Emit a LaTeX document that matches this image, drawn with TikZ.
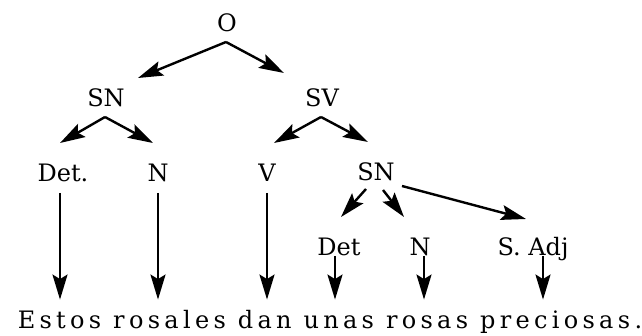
\documentclass[tikz,border=0pt]{standalone}
\usepackage{fontspec}
\setmainfont{DejaVu Serif}
\usetikzlibrary{positioning, arrows.meta}

\begin{document}
\begin{tikzpicture}[x=1pt, y=1pt, every node/.style={font=\fontsize{24}{28}\selectfont, inner sep=0pt}]
  % Styles
  \tikzset{
    cat/.style={anchor=base},
    flow/.style={-{Stealth[length=25pt, width=15pt, inset=4.5pt]}, line width=2.4pt, draw=black}
  }
  \useasboundingbox (0,0) rectangle (642,336);

  % Top levels
  \node[cat] (o) at (227,304) {O};
  \node[cat] (sn) at (106,229) {SN};
  \node[cat] (sv) at (322,229) {SV};

  % Third row
  \node[cat] (det) at (63,154) {Det.};
  \node[cat] (n) at (158,154) {N};
  \node[cat] (v) at (267,154) {V};
  \node[cat] (snb) at (376,155) {SN};

  % Fourth row
  \node[cat] (detb) at (339,80) {Det};
  \node[cat] (nb) at (420,80) {N};
  \node[cat] (sadj) at (533,80) {S. Adj};

  % Sentence
  \node[anchor=base] (sent) at (330,7) {\addfontfeature{LetterSpace=18}Estos rosales dan unas rosas preciosas.};

  % Branches from O, SN, SV
  \draw[flow] ([shift={(-1,-10)}]o.base) -- ([shift={(32,29)}]sn.base);
  \draw[flow] ([shift={(-1,-10)}]o.base) -- ([shift={(-38,34)}]sv.base);
  \draw[flow] ([shift={(-1,-10)}]sn.base) -- ([shift={(-3,39)}]det.base);
  \draw[flow] ([shift={(-1,-10)}]sn.base) -- ([shift={(-5,39)}]n.base);
  \draw[flow] ([shift={(-1,-10)}]sv.base) -- ([shift={(7,39)}]v.base);
  \draw[flow] ([shift={(-1,-10)}]sv.base) -- ([shift={(-8,39)}]snb.base);

  % Branches from the lower SN
  \draw[flow] ([shift={(-10,-8)}]snb.base) -- ([shift={(2,39)}]detb.base);
  \draw[flow] ([shift={(7,-9)}]snb.base) -- ([shift={(-16,39)}]nb.base);
  \draw[flow] ([shift={(26,-5)}]snb.base) -- ([shift={(-7,37)}]sadj.base);

  % Down to the words
  \draw[flow] ([shift={(-3,-11)}]det.base) -- ([shift={(-3,11)}]det.base |- sent.north);
  \draw[flow] ([yshift=-11pt]n.base) -- ([yshift=11pt]n.base |- sent.north);
  \draw[flow] ([yshift=-11pt]v.base) -- ([yshift=11pt]v.base |- sent.north);
  \draw[flow] ([xshift=-4pt]detb.base) -- ([shift={(-4,11)}]detb.base |- sent.north);
  \draw[flow] ([xshift=4pt]nb.base) -- ([shift={(4,11)}]nb.base |- sent.north);
  \draw[flow] ([xshift=10pt]sadj.base) -- ([shift={(10,11)}]sadj.base |- sent.north);

\end{tikzpicture}
\end{document}
